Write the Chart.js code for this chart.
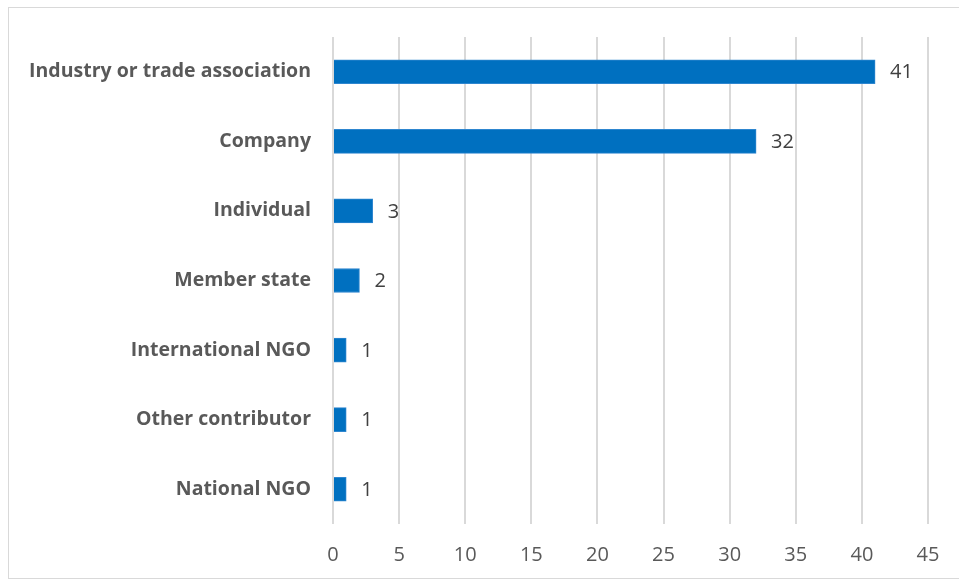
<!DOCTYPE html>
<html lang="en">
<head>
    <meta charset="UTF-8">
    <title>Contributors</title>
    <style>
        html, body { margin: 0; padding: 0; background: #fff; }
        .cadre {
            position: absolute; left: 8px; top: 7px; width: 960px; height: 570px;
            border: 1.5px solid #d9d9d9;
        }
        .zone { position: absolute; left: 0; top: 0; width: 959px; height: 581px; }
    </style>
</head>
<body>
    <div class="cadre"></div>
    <div class="zone">
        <canvas id="bar-chart" width="959" height="581"></canvas>
    </div>

    <script src="https://cdn.jsdelivr.net/npm/chart.js"></script>
    <script>
        const categories = ['Industry or trade association', 'Company', 'Individual', 'Member state',
            'International NGO', 'Other contributor', 'National NGO'];
        const counts = [41, 32, 3, 2, 1, 1, 1];
        const xTicks = [0, 5, 10, 15, 20, 25, 30, 35, 40, 45];

        // petits chiffres au bout des barres
        const valueLabels = {
            id: 'valueLabels',
            afterDatasetsDraw(chart) {
                const ctx = chart.ctx;
                const meta = chart.getDatasetMeta(0);
                ctx.save();
                ctx.font = '20px "Open Sans"';
                ctx.fillStyle = '#404040';
                ctx.textAlign = 'left';
                ctx.textBaseline = 'middle';
                meta.data.forEach((bar, i) => {
                    ctx.fillText(String(counts[i]), bar.x + 15, bar.y + 1);
                });
                ctx.restore();
            }
        };

        const ctx = document.getElementById('bar-chart').getContext('2d');
        window.barChart = new Chart(ctx, {
            type: 'bar',
            data: {
                labels: categories,
                datasets: [{
                    data: counts,
                    backgroundColor: '#0070c0',
                    borderColor: '#2e86cf',
                    borderWidth: 1,
                    barThickness: 24
                }]
            },
            options: {
                indexAxis: 'y',
                responsive: false,
                animation: false,
                layout: { padding: { left: 0, top: 37, right: 31, bottom: 0 } },
                plugins: { legend: { display: false }, tooltip: { enabled: false } },
                scales: {
                    x: {
                        min: 0,
                        max: 45,
                        afterBuildTicks: (scale) => { scale.ticks = xTicks.map(v => ({ value: v })); },
                        afterFit: (scale) => { scale.height = 57; },
                        grid: { color: '#d9d9d9', lineWidth: 2, drawTicks: false },
                        border: { display: false },
                        ticks: {
                            padding: 19,
                            color: '#595959',
                            font: { family: 'Open Sans', size: 20 }
                        }
                    },
                    y: {
                        afterFit: (scale) => { scale.width = 333; },
                        grid: { display: false, drawTicks: false },
                        border: { display: false },
                        ticks: {
                            padding: 22,
                            color: '#595959',
                            font: { family: 'Open Sans', size: 19.5, weight: 'bold' }
                        }
                    }
                }
            },
            plugins: [valueLabels]
        });
    </script>
</body>
</html>
